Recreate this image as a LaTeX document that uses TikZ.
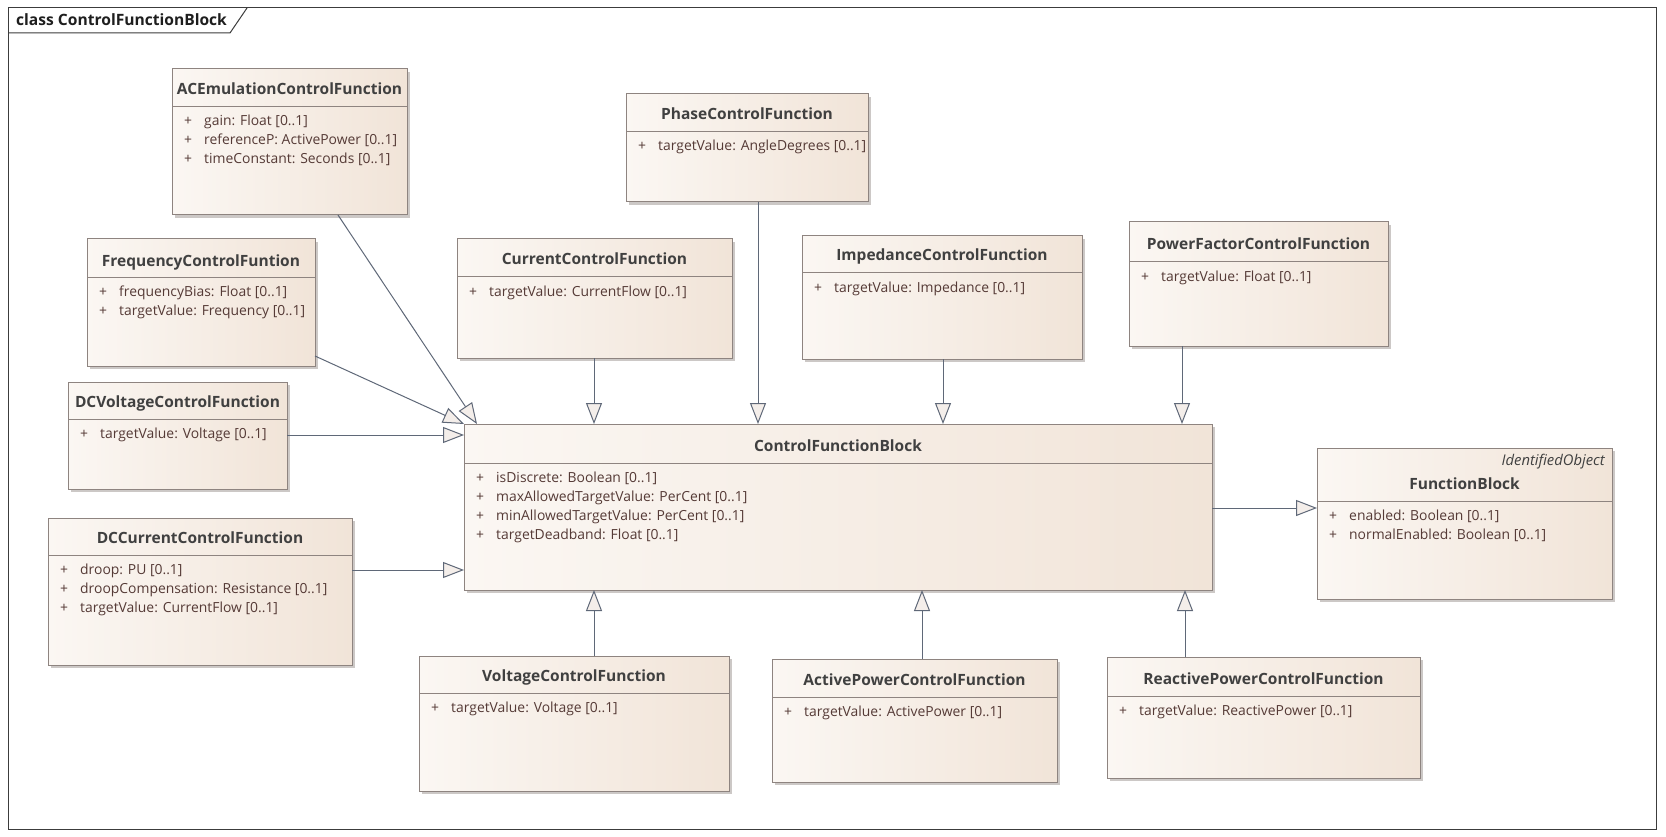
\documentclass[tikz,border=0pt]{standalone}
\usepackage{fontspec}
\setmainfont{Open Sans}
\usetikzlibrary{arrows.meta}
\definecolor{framec}{HTML}{3C3C3C}
\definecolor{boxline}{HTML}{8E8480}
\definecolor{boxL}{HTML}{FBF7F3}
\definecolor{boxR}{HTML}{F1E4D8}
\definecolor{shadowc}{HTML}{CCC8C6}
\definecolor{linec}{HTML}{5F6878}
\definecolor{tipfill}{HTML}{F4EEEA}
\definecolor{titlec}{HTML}{404040}
\definecolor{attrc}{HTML}{553A36}
\definecolor{frametext}{HTML}{1E1E1E}
\tikzset{
 clsbox/.style={draw=boxline, line width=1pt, left color=boxL, right color=boxR, inner sep=0pt, outer sep=0pt, anchor=north west},
 clsshadow/.style={fill=shadowc},
 divline/.style={draw=boxline, line width=1pt},
 ttl/.style={font=\fontsize{15.5}{18}\selectfont\bfseries, text=titlec, inner sep=0pt, anchor=base},
 attr/.style={font=\fontsize{13.9}{17}\selectfont, text=attrc, inner sep=0pt, anchor=base west},
 stereo/.style={font=\fontsize{14.8}{18}\selectfont\itshape, text=titlec, inner sep=0pt, anchor=base east},
 frametitle/.style={font=\fontsize{15.6}{18}\selectfont\bfseries, text=frametext, inner sep=0pt, anchor=base west},
 gen/.style={draw=linec, line width=1pt, -{Triangle[length=21pt, width=16pt, fill=tipfill]}},
}
% #1 name #2 x1 #3 y1 #4 x2 #5 y2 #6 divider y #7 title #8 attributes
\newcommand\classbox[8]{%
  \fill[clsshadow] (#2+3,#3+3) rectangle (#4+3,#5+3);
  \node[clsbox, minimum width={#4pt-#2pt}, minimum height={#5pt-#3pt}] (#1) at (#2,#3) {};
  \draw[divline] (#2,#6) -- (#4,#6);
  \node[ttl] (#1-t) at ({(#2+#4)/2},#6-12) {#7};
  \foreach \a [count=\i] in {#8} {%
    \node[attr] (#1-p\i) at (#2+12,#6+19*\i) {+};
    \node[attr] (#1-a\i) at (#2+32,#6+19*\i) {\a};
  }%
}
\begin{document}
\begin{tikzpicture}[x=1pt, y=-1pt]
\useasboundingbox (0,0) rectangle (1666,837);
\fill[white] (0,0) rectangle (1666,837);
% frame
\draw[framec, line width=1pt] (8,8) rectangle (1656,829);
\draw[framec, line width=1pt] (8,33) -- (230,33) -- (247,8);
\node[frametitle] (frm) at (16,26) {class ControlFunctionBlock};
% classes
\classbox{ac}{172}{69}{407}{215}{107}{ACEmulationControlFunction}{{gain: Float [0..1]},{referenceP: ActivePower [0..1]},{timeConstant: Seconds [0..1]}}
\classbox{freq}{87}{239}{315}{366}{278}{FrequencyControlFuntion}{{frequencyBias: Float [0..1]},{targetValue: Frequency [0..1]}}
\classbox{dcv}{68}{382}{287}{489}{419}{DCVoltageControlFunction}{{targetValue: Voltage [0..1]}}
\classbox{dcc}{48}{518}{352}{665}{555}{DCCurrentControlFunction}{{droop: PU [0..1]},{droopCompensation: Resistance [0..1]},{targetValue: CurrentFlow [0..1]}}
\classbox{ph}{626}{94}{868}{202}{132}{PhaseControlFunction}{{targetValue: AngleDegrees [0..1]}}
\classbox{cur}{457}{239}{732}{358}{277}{CurrentControlFunction}{{targetValue: CurrentFlow [0..1]}}
\classbox{imp}{802}{236}{1082}{359}{273}{ImpedanceControlFunction}{{targetValue: Impedance [0..1]}}
\classbox{pf}{1129}{222}{1388}{346}{262}{PowerFactorControlFunction}{{targetValue: Float [0..1]}}
\classbox{cfb}{464}{424}{1212}{590}{463}{ControlFunctionBlock}{{isDiscrete: Boolean [0..1]},{maxAllowedTargetValue: PerCent [0..1]},{minAllowedTargetValue: PerCent [0..1]},{targetDeadband: Float [0..1]}}
\classbox{fb}{1317}{448}{1612}{599}{501}{FunctionBlock}{{enabled: Boolean [0..1]},{normalEnabled: Boolean [0..1]}}
\node[stereo] (fb-s) at (1605,465) {IdentifiedObject};
\classbox{volt}{419}{656}{729}{791}{693}{VoltageControlFunction}{{targetValue: Voltage [0..1]}}
\classbox{apc}{772}{659}{1057}{782}{697}{ActivePowerControlFunction}{{targetValue: ActivePower [0..1]}}
\classbox{rpc}{1107}{657}{1420}{778}{696}{ReactivePowerControlFunction}{{targetValue: ReactivePower [0..1]}}
% generalizations
\draw[gen] (ac.south -| 338,0) -- (cfb.north -| 477,0);
\draw[gen] (freq.east |- 0,356) -- (cfb.north west);
\draw[gen] (dcv.east |- 0,435) -- (cfb.west |- 0,435);
\draw[gen] (dcc.east |- 0,570) -- (cfb.west |- 0,570);
\draw[gen] (cur.south -| 594,0) -- (cfb.north -| 594,0);
\draw[gen] (ph.south -| 758,0) -- (cfb.north -| 758,0);
\draw[gen] (imp.south -| 943,0) -- (cfb.north -| 943,0);
\draw[gen] (pf.south -| 1182,0) -- (cfb.north -| 1182,0);
\draw[gen] (volt.north -| 594,0) -- (cfb.south -| 594,0);
\draw[gen] (apc.north -| 922,0) -- (cfb.south -| 922,0);
\draw[gen] (rpc.north -| 1185,0) -- (cfb.south -| 1185,0);
\draw[gen] (cfb.east |- 0,508) -- (fb.west |- 0,508);
\end{tikzpicture}
\end{document}
